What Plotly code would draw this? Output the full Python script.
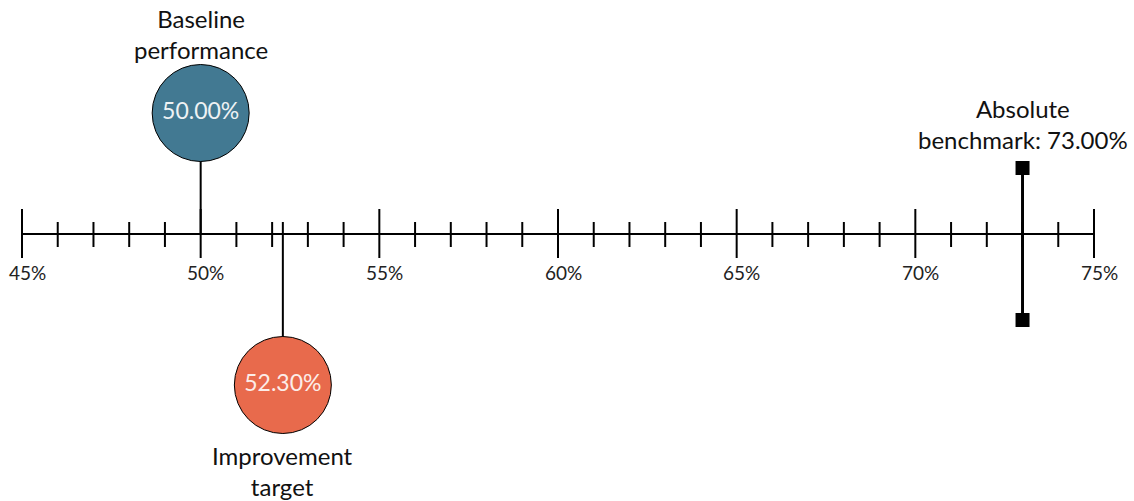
import plotly.graph_objects as go

# ---- data ----
axis_min, axis_max = 45, 75
major_ticks = [45, 50, 55, 60, 65, 70, 75]
minor_ticks = [v for v in range(45, 76) if v % 5 != 0]
tick_labels = [f"{v}%" for v in major_ticks]

baseline_value = 50.00
baseline_label = "Baseline<br>performance"
target_value = 52.30
target_label = "Improvement<br>target"
benchmark_value = 73.00
benchmark_label = "Absolute<br>benchmark: 73.00%"

# ---- layout constants (pixel positions on a reversed y axis) ----
W, H = 1134, 501
x_left_px, x_right_px = 22, 1094
ppu = (x_right_px - x_left_px) / (axis_max - axis_min)
xr = [axis_min - x_left_px / ppu, axis_max + (W - x_right_px) / ppu]
AXIS_Y = 234
FONT = "Lato"

fig = go.Figure()

# axis line
fig.add_trace(go.Scatter(x=[axis_min, axis_max], y=[AXIS_Y, AXIS_Y], mode="lines",
                         line=dict(color="black", width=2), hoverinfo="skip"))

# minor ticks
mx, my = [], []
for v in minor_ticks:
    mx += [v, v, None]
    my += [AXIS_Y - 12, AXIS_Y + 13, None]
fig.add_trace(go.Scatter(x=mx, y=my, mode="lines", line=dict(color="black", width=2), hoverinfo="skip"))

# major ticks
Mx, My = [], []
for v in major_ticks:
    Mx += [v, v, None]
    My += [AXIS_Y - 25, AXIS_Y + 24, None]
fig.add_trace(go.Scatter(x=Mx, y=My, mode="lines", line=dict(color="black", width=2), hoverinfo="skip"))

# tick labels (as annotations, slightly shifted right like the reference)
annotations = []
for v, lab in zip(major_ticks, tick_labels):
    annotations.append(dict(x=v, y=272, text=lab, xshift=5,
                            font=dict(family=FONT, size=19, color="#222")))

# baseline connector + circle
fig.add_trace(go.Scatter(x=[baseline_value, baseline_value], y=[160, AXIS_Y], mode="lines",
                         line=dict(color="black", width=2), hoverinfo="skip"))
fig.add_trace(go.Scatter(x=[baseline_value], y=[113], mode="markers+text",
                         marker=dict(size=97, color="#427992", line=dict(color="black", width=1)),
                         text=[f"{baseline_value:.2f}%"], textposition="middle center",
                         textfont=dict(family=FONT, size=23, color="#EEF2F4"), hoverinfo="skip"))

# target connector + circle
fig.add_trace(go.Scatter(x=[target_value, target_value], y=[AXIS_Y - 12, 340], mode="lines",
                         line=dict(color="black", width=2), hoverinfo="skip"))
fig.add_trace(go.Scatter(x=[target_value], y=[385], mode="markers+text",
                         marker=dict(size=97, color="#E86A4C", line=dict(color="black", width=1)),
                         text=[f"{target_value:.2f}%"], textposition="middle center",
                         textfont=dict(family=FONT, size=23, color="#FCEDE9"), hoverinfo="skip"))

# benchmark
fig.add_trace(go.Scatter(x=[benchmark_value, benchmark_value], y=[168, 320], mode="lines+markers",
                         line=dict(color="black", width=3),
                         marker=dict(symbol="square", size=14, color="black"), hoverinfo="skip"))

annotations += [
    dict(x=baseline_value, y=34, text=baseline_label, font=dict(family=FONT, size=24, color="#111")),
    dict(x=target_value, y=471, text=target_label, font=dict(family=FONT, size=24, color="#111")),
    dict(x=benchmark_value, y=124, text=benchmark_label, font=dict(family=FONT, size=24, color="#111")),
]
for a in annotations:
    a.update(xref="x", yref="y", showarrow=False, xanchor="center", yanchor="middle")

fig.update_layout(
    width=W, height=H, margin=dict(l=0, r=0, t=0, b=0),
    paper_bgcolor="white", plot_bgcolor="white", showlegend=False,
    xaxis=dict(range=xr, visible=False, fixedrange=True),
    yaxis=dict(range=[H, 0], visible=False, fixedrange=True),
    annotations=annotations,
)
fig.write_html("out.html", config={"displayModeBar": False})
